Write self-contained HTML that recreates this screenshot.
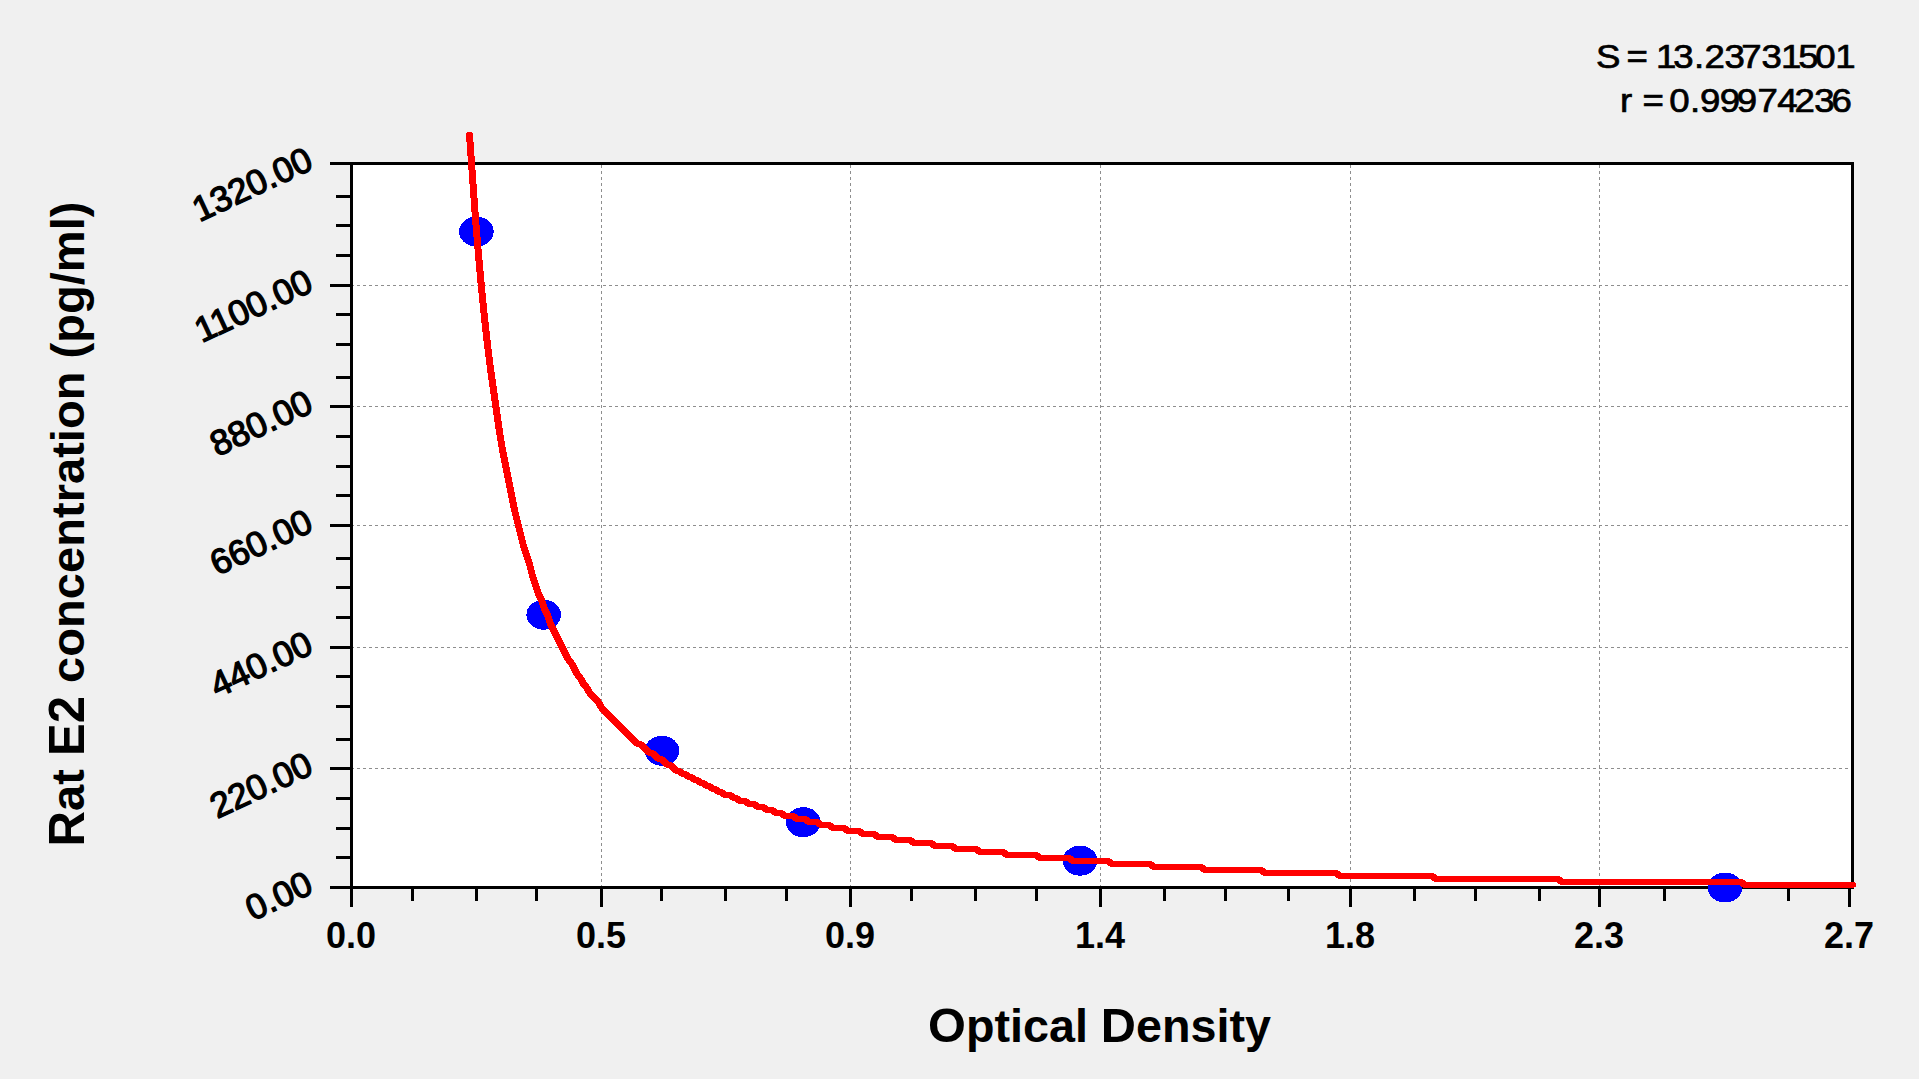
<!DOCTYPE html><html><head><meta charset="utf-8"><title>Rat E2 standard curve</title>
<style>html,body{margin:0;padding:0;background:#f0f0f0;overflow:hidden}svg{display:block}text{font-family:"Liberation Sans",sans-serif;fill:#000}.b{font-weight:bold}</style></head><body>
<svg width="1919" height="1079" viewBox="0 0 1919 1079">
<rect x="0" y="0" width="1919" height="1079" fill="#f0f0f0"/>
<rect x="352" y="164" width="1500" height="723" fill="#ffffff"/>
<g stroke="#8e8e8e" stroke-width="1" stroke-dasharray="3 3" shape-rendering="crispEdges" fill="none">
<line x1="601.5" y1="165" x2="601.5" y2="886"/>
<line x1="850.5" y1="165" x2="850.5" y2="886"/>
<line x1="1100.5" y1="165" x2="1100.5" y2="886"/>
<line x1="1350.5" y1="165" x2="1350.5" y2="886"/>
<line x1="1599.5" y1="165" x2="1599.5" y2="886"/>
<line x1="351" y1="285.5" x2="1851" y2="285.5"/>
<line x1="351" y1="406.5" x2="1851" y2="406.5"/>
<line x1="351" y1="525.5" x2="1851" y2="525.5"/>
<line x1="351" y1="647.5" x2="1851" y2="647.5"/>
<line x1="351" y1="768.5" x2="1851" y2="768.5"/>
</g>
<g fill="#000" shape-rendering="crispEdges">
<rect x="330" y="162" width="1524" height="3"/>
<rect x="330" y="886" width="1524" height="3"/>
<rect x="350" y="162" width="3" height="745"/>
<rect x="1851" y="162" width="3" height="727"/>
<rect x="336" y="195" width="15" height="3"/>
<rect x="336" y="224" width="15" height="3"/>
<rect x="336" y="254" width="15" height="3"/>
<rect x="330" y="284" width="21" height="3"/>
<rect x="336" y="313" width="15" height="3"/>
<rect x="336" y="343" width="15" height="3"/>
<rect x="336" y="376" width="15" height="3"/>
<rect x="330" y="405" width="21" height="3"/>
<rect x="336" y="435" width="15" height="3"/>
<rect x="336" y="465" width="15" height="3"/>
<rect x="336" y="494" width="15" height="3"/>
<rect x="330" y="524" width="21" height="3"/>
<rect x="336" y="557" width="15" height="3"/>
<rect x="336" y="586" width="15" height="3"/>
<rect x="336" y="616" width="15" height="3"/>
<rect x="330" y="646" width="21" height="3"/>
<rect x="336" y="675" width="15" height="3"/>
<rect x="336" y="705" width="15" height="3"/>
<rect x="336" y="738" width="15" height="3"/>
<rect x="330" y="767" width="21" height="3"/>
<rect x="336" y="797" width="15" height="3"/>
<rect x="336" y="827" width="15" height="3"/>
<rect x="336" y="856" width="15" height="3"/>
<rect x="411" y="888" width="3" height="13"/>
<rect x="475" y="888" width="3" height="13"/>
<rect x="535" y="888" width="3" height="13"/>
<rect x="600" y="888" width="3" height="19"/>
<rect x="660" y="888" width="3" height="13"/>
<rect x="724" y="888" width="3" height="13"/>
<rect x="785" y="888" width="3" height="13"/>
<rect x="849" y="888" width="3" height="19"/>
<rect x="910" y="888" width="3" height="13"/>
<rect x="974" y="888" width="3" height="13"/>
<rect x="1035" y="888" width="3" height="13"/>
<rect x="1099" y="888" width="3" height="19"/>
<rect x="1163" y="888" width="3" height="13"/>
<rect x="1224" y="888" width="3" height="13"/>
<rect x="1287" y="888" width="3" height="13"/>
<rect x="1349" y="888" width="3" height="19"/>
<rect x="1413" y="888" width="3" height="13"/>
<rect x="1474" y="888" width="3" height="13"/>
<rect x="1538" y="888" width="3" height="13"/>
<rect x="1598" y="888" width="3" height="19"/>
<rect x="1663" y="888" width="3" height="13"/>
<rect x="1724" y="888" width="3" height="13"/>
<rect x="1787" y="888" width="3" height="13"/>
<rect x="1848" y="888" width="3" height="19"/>
</g>
<g fill="#0000ff" shape-rendering="crispEdges">
<ellipse cx="476.4" cy="231.6" rx="17.3" ry="15"/>
<ellipse cx="543.7" cy="614.7" rx="17.3" ry="15"/>
<ellipse cx="662" cy="750.8" rx="17.3" ry="15"/>
<ellipse cx="803.3" cy="822.2" rx="17.3" ry="15"/>
<ellipse cx="1080" cy="860.7" rx="17.3" ry="15"/>
<ellipse cx="1725" cy="887.5" rx="17.3" ry="15"/>
</g>
<g transform="scale(1 0.83)"><polyline points="469.5,162.05 472.5,213.25 475.5,263.86 478.5,307.23 481.5,346.99 484.5,383.13 487.5,415.66 490.5,444.58 493.5,469.88 496.5,495.18 499.5,520.48 502.5,542.17 505.5,560.24 508.5,578.31 511.5,596.39 514.5,614.46 517.5,628.92 520.5,643.37 523.5,657.83 526.5,668.67 529.5,679.52 532.5,693.98 535.5,704.82 538.5,715.66 541.5,722.89 544.5,733.73 547.5,740.96 550.5,751.81 553.5,759.04 556.5,766.27 559.5,773.49 562.5,780.72 565.5,787.95 568.5,795.18 571.5,798.80 574.5,806.02 577.5,813.25 580.5,816.87 583.5,824.10 586.5,827.71 589.5,834.94 592.5,838.55 595.5,842.17 598.5,845.78 601.5,853.01 604.5,856.63 607.5,860.24 610.5,863.86 613.5,867.47 616.5,871.08 619.5,874.70 622.5,878.31 625.5,881.93 628.5,885.54 631.5,889.16 634.5,892.77 637.5,896.39 640.5,896.39 643.5,900.00 646.5,903.61 649.5,907.23 652.5,907.23 655.5,910.84 658.5,914.46 661.5,914.46 664.5,918.07 667.5,921.69 670.5,921.69 673.5,925.30 676.5,928.92 679.5,928.92 682.5,932.53 685.5,932.53 688.5,936.14 691.5,936.14 694.5,939.76 697.5,939.76 700.5,943.37 703.5,943.37 706.5,946.99 709.5,946.99 712.5,950.60 715.5,950.60 718.5,954.22 721.5,954.22 724.5,957.83 727.5,957.83 730.5,957.83 733.5,961.45 736.5,961.45 739.5,965.06 742.5,965.06 745.5,965.06 748.5,968.67 751.5,968.67 754.5,968.67 757.5,972.29 760.5,972.29 763.5,972.29 766.5,975.90 769.5,975.90 772.5,975.90 775.5,979.52 778.5,979.52 781.5,979.52 784.5,983.13 787.5,983.13 790.5,983.13 793.5,983.13 796.5,986.75 799.5,986.75 802.5,986.75 805.5,986.75 808.5,990.36 811.5,990.36 814.5,990.36 817.5,990.36 820.5,993.98 823.5,993.98 826.5,993.98 829.5,993.98 832.5,997.59 835.5,997.59 838.5,997.59 841.5,997.59 844.5,997.59 847.5,1001.20 850.5,1001.20 853.5,1001.20 856.5,1001.20 859.5,1001.20 862.5,1004.82 865.5,1004.82 868.5,1004.82 871.5,1004.82 874.5,1004.82 877.5,1008.43 880.5,1008.43 883.5,1008.43 886.5,1008.43 889.5,1008.43 892.5,1008.43 895.5,1012.05 898.5,1012.05 901.5,1012.05 904.5,1012.05 907.5,1012.05 910.5,1012.05 913.5,1015.66 916.5,1015.66 919.5,1015.66 922.5,1015.66 925.5,1015.66 928.5,1015.66 931.5,1015.66 934.5,1019.28 937.5,1019.28 940.5,1019.28 943.5,1019.28 946.5,1019.28 949.5,1019.28 952.5,1019.28 955.5,1022.89 958.5,1022.89 961.5,1022.89 964.5,1022.89 967.5,1022.89 970.5,1022.89 973.5,1022.89 976.5,1022.89 979.5,1026.51 982.5,1026.51 985.5,1026.51 988.5,1026.51 991.5,1026.51 994.5,1026.51 997.5,1026.51 1000.5,1026.51 1003.5,1026.51 1006.5,1030.12 1009.5,1030.12 1012.5,1030.12 1015.5,1030.12 1018.5,1030.12 1021.5,1030.12 1024.5,1030.12 1027.5,1030.12 1030.5,1030.12 1033.5,1030.12 1036.5,1030.12 1039.5,1033.73 1042.5,1033.73 1045.5,1033.73 1048.5,1033.73 1051.5,1033.73 1054.5,1033.73 1057.5,1033.73 1060.5,1033.73 1063.5,1033.73 1066.5,1033.73 1069.5,1033.73 1072.5,1037.35 1075.5,1037.35 1078.5,1037.35 1081.5,1037.35 1084.5,1037.35 1087.5,1037.35 1090.5,1037.35 1093.5,1037.35 1096.5,1037.35 1099.5,1037.35 1102.5,1037.35 1105.5,1037.35 1108.5,1037.35 1111.5,1040.96 1114.5,1040.96 1117.5,1040.96 1120.5,1040.96 1123.5,1040.96 1126.5,1040.96 1129.5,1040.96 1132.5,1040.96 1135.5,1040.96 1138.5,1040.96 1141.5,1040.96 1144.5,1040.96 1147.5,1040.96 1150.5,1040.96 1153.5,1044.58 1156.5,1044.58 1159.5,1044.58 1162.5,1044.58 1165.5,1044.58 1168.5,1044.58 1171.5,1044.58 1174.5,1044.58 1177.5,1044.58 1180.5,1044.58 1183.5,1044.58 1186.5,1044.58 1189.5,1044.58 1192.5,1044.58 1195.5,1044.58 1198.5,1044.58 1201.5,1044.58 1204.5,1048.19 1207.5,1048.19 1210.5,1048.19 1213.5,1048.19 1216.5,1048.19 1219.5,1048.19 1222.5,1048.19 1225.5,1048.19 1228.5,1048.19 1231.5,1048.19 1234.5,1048.19 1237.5,1048.19 1240.5,1048.19 1243.5,1048.19 1246.5,1048.19 1249.5,1048.19 1252.5,1048.19 1255.5,1048.19 1258.5,1048.19 1261.5,1048.19 1264.5,1051.81 1267.5,1051.81 1270.5,1051.81 1273.5,1051.81 1276.5,1051.81 1279.5,1051.81 1282.5,1051.81 1285.5,1051.81 1288.5,1051.81 1291.5,1051.81 1294.5,1051.81 1297.5,1051.81 1300.5,1051.81 1303.5,1051.81 1306.5,1051.81 1309.5,1051.81 1312.5,1051.81 1315.5,1051.81 1318.5,1051.81 1321.5,1051.81 1324.5,1051.81 1327.5,1051.81 1330.5,1051.81 1333.5,1051.81 1336.5,1051.81 1339.5,1055.42 1342.5,1055.42 1345.5,1055.42 1348.5,1055.42 1351.5,1055.42 1354.5,1055.42 1357.5,1055.42 1360.5,1055.42 1363.5,1055.42 1366.5,1055.42 1369.5,1055.42 1372.5,1055.42 1375.5,1055.42 1378.5,1055.42 1381.5,1055.42 1384.5,1055.42 1387.5,1055.42 1390.5,1055.42 1393.5,1055.42 1396.5,1055.42 1399.5,1055.42 1402.5,1055.42 1405.5,1055.42 1408.5,1055.42 1411.5,1055.42 1414.5,1055.42 1417.5,1055.42 1420.5,1055.42 1423.5,1055.42 1426.5,1055.42 1429.5,1055.42 1432.5,1055.42 1435.5,1059.04 1438.5,1059.04 1441.5,1059.04 1444.5,1059.04 1447.5,1059.04 1450.5,1059.04 1453.5,1059.04 1456.5,1059.04 1459.5,1059.04 1462.5,1059.04 1465.5,1059.04 1468.5,1059.04 1471.5,1059.04 1474.5,1059.04 1477.5,1059.04 1480.5,1059.04 1483.5,1059.04 1486.5,1059.04 1489.5,1059.04 1492.5,1059.04 1495.5,1059.04 1498.5,1059.04 1501.5,1059.04 1504.5,1059.04 1507.5,1059.04 1510.5,1059.04 1513.5,1059.04 1516.5,1059.04 1519.5,1059.04 1522.5,1059.04 1525.5,1059.04 1528.5,1059.04 1531.5,1059.04 1534.5,1059.04 1537.5,1059.04 1540.5,1059.04 1543.5,1059.04 1546.5,1059.04 1549.5,1059.04 1552.5,1059.04 1555.5,1059.04 1558.5,1059.04 1561.5,1062.65 1564.5,1062.65 1567.5,1062.65 1570.5,1062.65 1573.5,1062.65 1576.5,1062.65 1579.5,1062.65 1582.5,1062.65 1585.5,1062.65 1588.5,1062.65 1591.5,1062.65 1594.5,1062.65 1597.5,1062.65 1600.5,1062.65 1603.5,1062.65 1606.5,1062.65 1609.5,1062.65 1612.5,1062.65 1615.5,1062.65 1618.5,1062.65 1621.5,1062.65 1624.5,1062.65 1627.5,1062.65 1630.5,1062.65 1633.5,1062.65 1636.5,1062.65 1639.5,1062.65 1642.5,1062.65 1645.5,1062.65 1648.5,1062.65 1651.5,1062.65 1654.5,1062.65 1657.5,1062.65 1660.5,1062.65 1663.5,1062.65 1666.5,1062.65 1669.5,1062.65 1672.5,1062.65 1675.5,1062.65 1678.5,1062.65 1681.5,1062.65 1684.5,1062.65 1687.5,1062.65 1690.5,1062.65 1693.5,1062.65 1696.5,1062.65 1699.5,1062.65 1702.5,1062.65 1705.5,1062.65 1708.5,1062.65 1711.5,1062.65 1714.5,1062.65 1717.5,1062.65 1720.5,1062.65 1723.5,1062.65 1726.5,1062.65 1729.5,1062.65 1732.5,1062.65 1735.5,1062.65 1738.5,1062.65 1741.5,1062.65 1744.5,1066.27 1747.5,1066.27 1750.5,1066.27 1753.5,1066.27 1756.5,1066.27 1759.5,1066.27 1762.5,1066.27 1765.5,1066.27 1768.5,1066.27 1771.5,1066.27 1774.5,1066.27 1777.5,1066.27 1780.5,1066.27 1783.5,1066.27 1786.5,1066.27 1789.5,1066.27 1792.5,1066.27 1795.5,1066.27 1798.5,1066.27 1801.5,1066.27 1804.5,1066.27 1807.5,1066.27 1810.5,1066.27 1813.5,1066.27 1816.5,1066.27 1819.5,1066.27 1822.5,1066.27 1825.5,1066.27 1828.5,1066.27 1831.5,1066.27 1834.5,1066.27 1837.5,1066.27 1840.5,1066.27 1843.5,1066.27 1846.5,1066.27 1849.5,1066.27 1852.5,1066.27" fill="none" stroke="#ff0000" stroke-width="7" stroke-linejoin="round" stroke-linecap="round" shape-rendering="crispEdges"/></g>
<text transform="translate(0 67.9) scale(1.11 1)" x="1437.74 1459.75 1465.28 1484.55 1491.95 1507.50 1526.05 1535.55 1553.53 1568.74 1586.96 1604.56 1620.09 1635.42 1653.39" y="0" font-size="33.0" stroke="#000" stroke-width="0.7">S = 13.23731501</text>
<text transform="translate(0 112.0) scale(1.11 1)" x="1459.36 1470.35 1479.74 1499.01 1503.80 1522.44 1531.46 1549.35 1564.75 1583.24 1601.11 1616.68 1634.48 1650.08" y="0" font-size="33.0" stroke="#000" stroke-width="0.7">r = 0.99974236</text>
<text class="b" x="351.0" y="947.7" font-size="36" text-anchor="middle">0.0</text>
<text class="b" x="601.0" y="947.7" font-size="36" text-anchor="middle">0.5</text>
<text class="b" x="850.0" y="947.7" font-size="36" text-anchor="middle">0.9</text>
<text class="b" x="1100.0" y="947.7" font-size="36" text-anchor="middle">1.4</text>
<text class="b" x="1350.0" y="947.7" font-size="36" text-anchor="middle">1.8</text>
<text class="b" x="1599.0" y="947.7" font-size="36" text-anchor="middle">2.3</text>
<text class="b" x="1849.0" y="947.7" font-size="36" text-anchor="middle">2.7</text>
<text x="315.1" y="168.3" font-size="35.3" text-anchor="end" stroke="#000" stroke-width="1.3" transform="rotate(-25 315.1 168.3)">1320.00</text>
<text x="315.1" y="290.3" font-size="35.3" text-anchor="end" stroke="#000" stroke-width="1.3" transform="rotate(-25 315.1 290.3)">1100.00</text>
<text x="315.1" y="411.3" font-size="35.3" text-anchor="end" stroke="#000" stroke-width="1.3" transform="rotate(-25 315.1 411.3)">880.00</text>
<text x="315.1" y="530.3" font-size="35.3" text-anchor="end" stroke="#000" stroke-width="1.3" transform="rotate(-25 315.1 530.3)">660.00</text>
<text x="315.1" y="652.3" font-size="35.3" text-anchor="end" stroke="#000" stroke-width="1.3" transform="rotate(-25 315.1 652.3)">440.00</text>
<text x="315.1" y="773.3" font-size="35.3" text-anchor="end" stroke="#000" stroke-width="1.3" transform="rotate(-25 315.1 773.3)">220.00</text>
<text x="315.1" y="892.3" font-size="35.3" text-anchor="end" stroke="#000" stroke-width="1.3" transform="rotate(-25 315.1 892.3)">0.00</text>
<text class="b" x="1099.5" y="1042" font-size="46.7" text-anchor="middle"><tspan font-size="48.7">O</tspan>ptical <tspan font-size="48.7">D</tspan>ensity</text>
<text class="b" x="83.5" y="524" font-size="47.1" text-anchor="middle" transform="rotate(-90 83.5 524)"><tspan font-size="49.1">R</tspan>at <tspan font-size="49.1">E2</tspan> concentration (pg/ml)</text>
</svg></body></html>
